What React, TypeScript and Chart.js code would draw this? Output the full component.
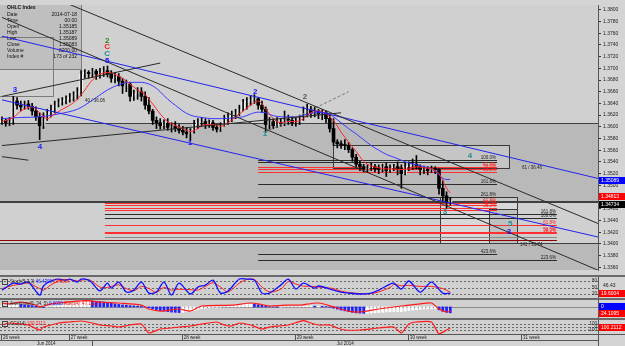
import React, { useEffect, useRef } from 'react';
import { Chart, registerables } from 'chart.js';

Chart.register(...registerables);

// ---------------- price data (H4 bars, index 0 = first visible bar) ----------------
const firstOpen = 1.3607;
const highs = [
  1.3617, 1.3614, 1.3616, 1.3652, 1.3650, 1.3644, 1.3644, 1.3645, 1.3640, 1.3634,
  1.3624, 1.3624, 1.3630, 1.3637, 1.3644, 1.3648, 1.3650, 1.3653, 1.3657, 1.3660,
  1.3667, 1.3696, 1.3698, 1.3696, 1.3700, 1.3698, 1.3700, 1.3703, 1.3704, 1.3696,
  1.3693, 1.3691, 1.3683, 1.3680, 1.3676, 1.3663, 1.3667, 1.3667, 1.3660, 1.3650,
  1.3630, 1.3617, 1.3614, 1.3612, 1.3614, 1.3607, 1.3609, 1.3604, 1.3601, 1.3599,
  1.3597, 1.3611, 1.3614, 1.3616, 1.3614, 1.3612, 1.3611, 1.3604, 1.3607, 1.3620,
  1.3624, 1.3627, 1.3630, 1.3637, 1.3647, 1.3650, 1.3653, 1.3655, 1.3650, 1.3644,
  1.3634, 1.3616, 1.3614, 1.3616, 1.3614, 1.3627, 1.3620, 1.3617, 1.3616, 1.3620,
  1.3634, 1.3639, 1.3635, 1.3634, 1.3630, 1.3629, 1.3627, 1.3620, 1.3614, 1.3578,
  1.3576, 1.3578, 1.3573, 1.3564, 1.3553, 1.3541, 1.3536, 1.3535, 1.3538, 1.3536,
  1.3535, 1.3536, 1.3538, 1.3535, 1.3536, 1.3540, 1.3535, 1.3538, 1.3540, 1.3545,
  1.3551, 1.3535, 1.3533, 1.3532, 1.3533, 1.3532, 1.3528, 1.3508, 1.3489, 1.3479,
];
const lows = [
  1.3604, 1.3601, 1.3602, 1.3604, 1.3630, 1.3627, 1.3630, 1.3630, 1.3620, 1.3611,
  1.3578, 1.3597, 1.3611, 1.3617, 1.3624, 1.3634, 1.3637, 1.3639, 1.3642, 1.3644,
  1.3647, 1.3653, 1.3683, 1.3683, 1.3685, 1.3681, 1.3683, 1.3686, 1.3685, 1.3676,
  1.3675, 1.3670, 1.3657, 1.3660, 1.3644, 1.3645, 1.3647, 1.3644, 1.3630, 1.3622,
  1.3604, 1.3597, 1.3596, 1.3597, 1.3594, 1.3591, 1.3592, 1.3589, 1.3586, 1.3581,
  1.3576, 1.3589, 1.3597, 1.3601, 1.3597, 1.3599, 1.3594, 1.3591, 1.3592, 1.3601,
  1.3604, 1.3609, 1.3614, 1.3619, 1.3627, 1.3630, 1.3637, 1.3640, 1.3630, 1.3624,
  1.3591, 1.3596, 1.3597, 1.3599, 1.3601, 1.3602, 1.3604, 1.3602, 1.3601, 1.3604,
  1.3611, 1.3617, 1.3616, 1.3617, 1.3614, 1.3612, 1.3607, 1.3591, 1.3568, 1.3564,
  1.3563, 1.3561, 1.3556, 1.3541, 1.3532, 1.3525, 1.3523, 1.3522, 1.3525, 1.3523,
  1.3520, 1.3523, 1.3515, 1.3522, 1.3525, 1.3518, 1.3495, 1.3518, 1.3525, 1.3527,
  1.3528, 1.3518, 1.3520, 1.3518, 1.3522, 1.3520, 1.3485, 1.3472, 1.3461, 1.3466,
];
const closes = [
  1.3611, 1.3607, 1.3609, 1.3644, 1.3637, 1.3634, 1.3639, 1.3635, 1.3627, 1.3617,
  1.3602, 1.3614, 1.3624, 1.3630, 1.3637, 1.3642, 1.3645, 1.3648, 1.3650, 1.3655,
  1.3660, 1.3690, 1.3693, 1.3691, 1.3695, 1.3690, 1.3693, 1.3696, 1.3690, 1.3683,
  1.3686, 1.3678, 1.3670, 1.3673, 1.3652, 1.3657, 1.3660, 1.3652, 1.3637, 1.3627,
  1.3611, 1.3607, 1.3602, 1.3606, 1.3599, 1.3601, 1.3597, 1.3594, 1.3591, 1.3588,
  1.3594, 1.3604, 1.3607, 1.3609, 1.3604, 1.3607, 1.3599, 1.3596, 1.3602, 1.3614,
  1.3617, 1.3622, 1.3624, 1.3630, 1.3642, 1.3644, 1.3647, 1.3648, 1.3637, 1.3630,
  1.3604, 1.3609, 1.3602, 1.3607, 1.3606, 1.3612, 1.3611, 1.3607, 1.3609, 1.3614,
  1.3627, 1.3630, 1.3624, 1.3627, 1.3622, 1.3624, 1.3614, 1.3597, 1.3574, 1.3571,
  1.3569, 1.3568, 1.3561, 1.3548, 1.3536, 1.3532, 1.3528, 1.3530, 1.3532, 1.3528,
  1.3527, 1.3532, 1.3525, 1.3530, 1.3532, 1.3528, 1.3520, 1.3532, 1.3533, 1.3536,
  1.3532, 1.3527, 1.3528, 1.3525, 1.3528, 1.3527, 1.3495, 1.3482, 1.3471, 1.3474,
];

// moving averages (bar index, price)
const fastMAIdx = [0, 3, 5, 8, 10, 12, 14, 16, 18, 20, 22, 24, 26, 28, 30, 32, 34, 36, 38, 40, 42, 44, 46, 48, 50, 52, 54, 56, 58, 60, 62, 64, 66, 68, 70, 72, 74, 76, 78, 80, 82, 84, 86, 88, 90, 92, 94, 96, 98, 100, 102, 104, 106, 108, 110, 112, 114, 116, 117, 118, 119];
const fastMA = [1.3609, 1.3616, 1.3627, 1.3634, 1.3624, 1.3614, 1.3622, 1.3630, 1.3637, 1.3647, 1.3663, 1.3680, 1.3690, 1.3693, 1.3690, 1.3683, 1.3673, 1.3663, 1.3655, 1.3639, 1.3622, 1.3609, 1.3602, 1.3597, 1.3592, 1.3597, 1.3604, 1.3604, 1.3601, 1.3607, 1.3617, 1.3627, 1.3637, 1.3644, 1.3630, 1.3614, 1.3607, 1.3609, 1.3609, 1.3614, 1.3624, 1.3627, 1.3622, 1.3611, 1.3591, 1.3574, 1.3558, 1.3541, 1.3533, 1.3530, 1.3528, 1.3528, 1.3527, 1.3528, 1.3532, 1.3530, 1.3528, 1.3520, 1.3508, 1.3495, 1.3487];
const slowMAIdx = [0, 5, 10, 15, 20, 22, 25, 28, 31, 34, 37, 40, 42, 44, 46, 48, 50, 53, 56, 59, 62, 64, 66, 68, 70, 72, 75, 78, 81, 84, 86, 88, 90, 92, 94, 96, 98, 100, 102, 104, 106, 108, 110, 112, 114, 116, 117, 118, 119];
const slowMA = [1.3614, 1.3616, 1.3617, 1.3622, 1.3630, 1.3637, 1.3650, 1.3663, 1.3672, 1.3676, 1.3676, 1.3670, 1.3660, 1.3647, 1.3637, 1.3627, 1.3620, 1.3616, 1.3614, 1.3614, 1.3616, 1.3617, 1.3622, 1.3625, 1.3624, 1.3619, 1.3617, 1.3617, 1.3622, 1.3624, 1.3624, 1.3617, 1.3607, 1.3597, 1.3588, 1.3578, 1.3568, 1.3560, 1.3553, 1.3548, 1.3543, 1.3538, 1.3535, 1.3532, 1.3528, 1.3518, 1.3512, 1.3510, 1.3510];

// trend lines: [startIdx, startPrice, endIdx, endPrice]
const trendLines = [
  [0, 1.3857, 160, 1.3430],
  [0, 1.3787, 160, 1.3350],
  [0, 1.3755, 160, 1.3509],
  [0, 1.3646, 160, 1.3409],
  [0, 1.3652, 42, 1.3709],
  [0, 1.3568, 90, 1.3624],
  [0, 1.3549, 7, 1.3543],
  [70, 1.3591, 92, 1.3660],
];
const trendKinds = ['black', 'black', 'blue', 'blue', 'black', 'black', 'black', 'dash'];

// shaded zones (price ranges) and full-width horizontal lines
const zoneRanges = [[1.3471, 1.3606], [1.3300, 1.3401]];
const fullLines = [1.3606, 1.3471, 1.3401];

// rectangles: [idx1, price1, idx2, price2]
const boxes = [
  [87.9, 1.3569, 134.6, 1.3530],
  [116.3, 1.3480, 136.7, 1.3401],
  [129.3, 1.3459, 136.7, 1.3401],
];

// fibonacci levels
const fibPrice = [1.3543, 1.3540, 1.3532, 1.3528, 1.3523, 1.3502, 1.3480,
  1.3469, 1.3466, 1.3462, 1.3457,
  1.3451, 1.3444, 1.3433, 1.3421, 1.3418, 1.3411, 1.3406,
  1.3383, 1.3373];
const fibFrom = [68, 68, 68, 68, 68, 68, 68,
  27.3, 27.3, 27.3, 27.3,
  27.3, 27.3, 27.3, 27.3, 27.3, 27.3, -1,
  68, 68];
const fibTo = [131.4, 131.4, 131.4, 131.4, 131.4, 131.4, 131.4,
  131.4, 131.4, 131.4, 131.4,
  147.3, 147.3, 147.3, 147.3, 147.3, 147.3, 147.3,
  131.4, 147.3];
const fibText = ['100.0%', '', '61.8%', '50.0%', '38.2%', '161.8%', '261.8%',
  '61.8%', '50.0%', '38.2%', '',
  '161.8%', '100.0%', '61.8%', '50.0%', '38.2%', '', '',
  '423.6%', '223.6%'];
const fibKind = ['k', 'k', 'r', 'r', 'r', 'k', 'k',
  'r', 'r', 'r', 'r',
  'k', 'k', 'r', 'r', 'r', 'g', 'd',
  'k', 'k'];

// wave labels
const waveText = ['3', '4', '2', 'C', 'C', '5', '1', '2', '1', '2', '4', '3', '5', '3'];
const waveIdx = [3.45, 10.1, 27.9, 27.9, 27.9, 27.9, 49.9, 67.2, 69.8, 80.4, 124.2, 117.6, 134.9, 134.6];
const wavePrice = [1.3663, 1.3566, 1.3747, 1.3736, 1.3724, 1.3713, 1.3573, 1.3660, 1.3588, 1.3652, 1.3550, 1.3454, 1.3434, 1.3420];
const waveColors = ['#1a1aff', '#1a1aff', '#1f8a1f', '#ff1a1a', '#1f8f8f', '#1a1aff', '#1a1aff', '#1a1aff', '#1f8f8f', '#555555', '#1f8f8f', '#1f8f8f', '#1f8f8f', '#1a1aff'];

const noteText = ['40 / 36.06', '61 / 36.46', '141 / 36.74'];
const noteIdx = [22, 138, 137.5];
const notePrice = [1.3644, 1.3530, 1.3398];

// price markers on the scale
const markerValue = [1.35089, 1.34813, 1.34734];
const markerColor = ['#0000ff', '#ff0000', '#000000'];

// OHLC info box
const infoLabels = ['Date', 'Time', 'Open', 'High', 'Low', 'Close', 'Volume', 'Index #'];
const infoValues = ['2014-07-18', '00:00', '1.35185', '1.35187', '1.35089', '1.35083', '8200.00', '173 of 232'];

// stochastic panel
const stochIdx = [0, 3, 5, 7, 10, 11, 13, 15, 17, 18, 20, 21, 23, 24, 26, 28, 29, 31, 33, 35, 37, 39, 41, 43, 45, 47, 50, 52, 54, 56, 58, 60, 63, 65, 67, 69, 71, 74, 76, 78, 80, 83, 84, 88, 90, 92, 95, 98, 100, 103, 104, 106, 108, 111, 114, 117, 119];
const stochMain = [38, 70, 66, 75, 15, 57, 80, 89, 84, 89, 75, 89, 84, 70, 34, 70, 47, 75, 29, 38, 75, 24, 29, 75, 15, 70, 20, 52, 61, 84, 24, 34, 89, 89, 84, 24, 24, 61, 89, 43, 70, 47, 57, 38, 29, 24, 20, 24, 38, 66, 70, 43, 80, 29, 75, 24, 24];
const stochSignal = [45, 60, 66, 70, 45, 38, 62, 80, 86, 87, 80, 84, 86, 78, 52, 50, 55, 62, 45, 35, 55, 45, 28, 50, 38, 42, 40, 38, 55, 72, 52, 30, 70, 87, 87, 52, 30, 42, 78, 66, 56, 55, 52, 45, 33, 27, 22, 22, 30, 50, 64, 58, 60, 55, 55, 45, 28];
const stochLevels = [80, 50, 20];

// histogram panel
const histValues = [
  4, 5, 6, 9, 10, 9, 8, 7, 5, 3,
  0, -2, -1, 1, 3, 5, 6, 7,
  9, 12, 18, 22, 24, 25, 24, 23, 22, 20, 18, 15,
  12, 10, 8, 7, 5, 4, 3, 2, 0, -3,
  -8, -12, -15, -17, -19, -21, -22, -23, -22, -20, -18,
  -14, -10, -7, -5, -3, -2, -2, -1,
  1, 3, 5, 7, 9, 11, 12, 12, 11,
  9, 6, 3, 1, 0, -1, -1, 0, 0, 1, 1, 2,
  3, 4, 4, 3, 3, 2, 1, -1,
  -5, -9, -13, -16, -19, -22, -24, -25, -26, -26, -25, -24, -23, -22, -21, -20, -19, -19, -19,
  -17, -15, -13, -12, -10, -9, -8, -8, -8,
  -12, -18, -22, -24,
];
const rsiIdx = [0, 2, 5, 9, 10, 13, 15, 21, 23, 26, 31, 37, 39, 42, 47, 50, 53, 61, 66, 68, 71, 75, 79, 84, 88, 92, 95, 100, 106, 108, 111, 114, 116, 118, 119];
const rsiValues = [70, 67, 73, 63, 57, 67, 70, 77, 78, 73, 70, 63, 50, 43, 50, 43, 60, 63, 70, 67, 60, 63, 63, 70, 57, 43, 40, 50, 60, 63, 67, 70, 50, 40, 43];

// CCI panel
const cciIdx = [0, 2, 5, 7, 10, 11, 13, 15, 18, 21, 24, 26, 29, 31, 34, 37, 39, 42, 45, 47, 50, 53, 57, 59, 61, 63, 66, 69, 71, 76, 80, 82, 84, 87, 89, 91, 95, 100, 104, 106, 108, 110, 114, 116, 118, 119];
const cciValues = [71, 143, 107, 71, -107, 0, 71, 143, 179, 214, 143, 71, 36, 0, 71, 107, -214, -71, -36, 0, 36, 107, 179, 71, 36, 143, 71, -71, 0, 71, 230, 143, 71, 71, -36, -107, -107, -36, 0, -214, 107, 179, 179, -250, -107, -36];
const cciLevels = [100, 0, -100];

// time axis
const weekIdx = [0, 18, 48, 78, 108, 138];
const weekText = ['26 week', '27 week', '28 week', '29 week', '30 week', '31 week'];
const monthStartIdx = [-0.53, 24];
const monthText = ['Jun 2014', 'Jul 2014'];

// ---------------- layout / style ----------------
const AXIS_W = 27;
const X_MIN = -0.53;
const X_MAX = 158.2;
const Y_MIN = 1.33553;
const Y_MAX = 1.38082;
const FONT = 'Liberation Sans, Arial, sans-serif';
const C = {
  page: '#d4d4d4',
  plot: '#d0d0d0',
  zone: '#b9b9b9',
  sep: '#6a6a6a',
  black: '#1e1e1e',
  blue: '#1010ff',
  red: '#ff1010',
};
const trendStyle: Record<string, any> = {
  black: { color: '#2a2a2a', dash: [] },
  blue: { color: '#2323ee', dash: [] },
  dash: { color: '#777777', dash: [3, 2] },
};
const fibColor: Record<string, string> = { k: '#2b2b2b', r: '#ff3030', g: '#8a8a8a', d: '#8b0000' };

const xScale = { type: 'linear', min: X_MIN, max: X_MAX, display: false, offset: false };

const px = (v: number) => Math.round(v) + 0.5;

function drawBox(ctx: CanvasRenderingContext2D, x: number, y: number, w: number, h: number, bg: string, text: string, fg = '#fff') {
  ctx.fillStyle = bg;
  ctx.fillRect(x, y, w, h);
  ctx.fillStyle = fg;
  ctx.font = `5px ${FONT}`;
  ctx.textAlign = 'left';
  ctx.textBaseline = 'middle';
  ctx.fillText(text, x + 2, y + h / 2 + 0.5);
}

const mainPlugin = {
  id: 'mainDecor',
  beforeDatasetsDraw(chart: any) {
    const { ctx, chartArea: a, scales } = chart;
    const x = scales.x, y = scales.y;
    ctx.save();
    ctx.beginPath();
    ctx.rect(a.left, a.top, a.right - a.left, a.bottom - a.top);
    ctx.clip();
    ctx.fillStyle = C.plot;
    ctx.fillRect(a.left, a.top, a.right - a.left, a.bottom - a.top);
    zoneRanges.forEach(([lo, hi]) => {
      const y1 = y.getPixelForValue(hi), y2 = y.getPixelForValue(lo);
      ctx.fillStyle = C.zone;
      ctx.fillRect(a.left, y1, a.right - a.left, y2 - y1);
    });
    // info panel
    ctx.fillStyle = '#bfbfbf';
    ctx.fillRect(0, 0, 82, 70);
    ctx.strokeStyle = '#7c7c7c';
    ctx.lineWidth = 1;
    ctx.strokeRect(-0.5, -0.5, 82, 70);
    ctx.strokeRect(-0.5, 37.5, 54, 59);
    ctx.fillStyle = '#111';
    ctx.font = `bold 5px ${FONT}`;
    ctx.textBaseline = 'middle';
    ctx.textAlign = 'left';
    ctx.fillText('OHLC Index', 7, 8);
    ctx.font = `5px ${FONT}`;
    infoLabels.forEach((l, k) => {
      const yy = 15 + k * 6;
      ctx.textAlign = 'left';
      ctx.fillText(l, 7, yy);
      ctx.textAlign = 'right';
      ctx.fillText(infoValues[k], 77, yy);
    });
    // boxes
    boxes.forEach(([i1, p1, i2, p2], k) => {
      const x1 = x.getPixelForValue(i1), x2 = x.getPixelForValue(i2);
      const y1 = y.getPixelForValue(p1), y2 = y.getPixelForValue(p2);
      ctx.fillStyle = k === 2 ? 'rgba(120,120,120,0.25)' : 'rgba(255,255,255,0.18)';
      ctx.fillRect(x1, y1, x2 - x1, y2 - y1);
      ctx.strokeStyle = '#3a3a3a';
      ctx.strokeRect(px(x1), px(y1), Math.round(x2 - x1), Math.round(y2 - y1));
    });
    // full width lines
    fullLines.forEach((p, k) => {
      const yy = y.getPixelForValue(p);
      ctx.strokeStyle = '#404040';
      ctx.lineWidth = k === 1 ? 2 : 1;
      ctx.beginPath();
      ctx.moveTo(a.left, k === 1 ? Math.round(yy) : px(yy));
      ctx.lineTo(a.right, k === 1 ? Math.round(yy) : px(yy));
      ctx.stroke();
    });
    ctx.lineWidth = 1;
    // fib levels
    fibPrice.forEach((p, k) => {
      const yy = px(y.getPixelForValue(p));
      const x1 = x.getPixelForValue(fibFrom[k]), x2 = x.getPixelForValue(fibTo[k]);
      ctx.strokeStyle = fibColor[fibKind[k]];
      ctx.beginPath();
      ctx.moveTo(x1, yy);
      ctx.lineTo(x2, yy);
      ctx.stroke();
      if (fibText[k]) {
        ctx.fillStyle = fibKind[k] === 'r' ? '#ff2020' : '#222';
        ctx.font = `4.5px ${FONT}`;
        ctx.textAlign = 'right';
        ctx.textBaseline = 'bottom';
        ctx.fillText(fibText[k], x2 - 1, yy - 0.5);
      }
    });
    ctx.restore();
  },
  afterDatasetsDraw(chart: any) {
    const { ctx, chartArea: a, scales } = chart;
    const x = scales.x, y = scales.y;
    ctx.save();
    ctx.beginPath();
    ctx.rect(a.left, a.top, a.right - a.left, a.bottom - a.top);
    ctx.clip();
    waveText.forEach((t, k) => {
      const big = k >= 2 && k <= 5;
      ctx.font = `bold ${big ? 8 : 8}px ${FONT}`;
      ctx.fillStyle = waveColors[k];
      ctx.textAlign = 'center';
      ctx.textBaseline = 'middle';
      ctx.fillText(t, x.getPixelForValue(waveIdx[k]), y.getPixelForValue(wavePrice[k]));
    });
    ctx.font = `4.5px ${FONT}`;
    ctx.fillStyle = '#222';
    ctx.textAlign = 'left';
    noteText.forEach((t, k) => {
      ctx.fillText(t, x.getPixelForValue(noteIdx[k]), y.getPixelForValue(notePrice[k]));
    });
    ctx.restore();
  },
  afterDraw(chart: any) {
    const { ctx, chartArea: a, scales } = chart;
    const y = scales.y;
    ctx.save();
    let last = -100;
    markerValue.forEach((v, k) => {
      let yy = Math.round(y.getPixelForValue(v)) - 3;
      if (yy < last + 8) yy = last + 8;
      last = yy;
      drawBox(ctx, a.right + 1, yy, AXIS_W - 1, 7, markerColor[k], v.toFixed(5));
    });
    ctx.restore();
  },
};

function panelBase(chart: any) {
  const { ctx, chartArea: a } = chart;
  ctx.fillStyle = C.plot;
  ctx.fillRect(a.left, a.top, a.right - a.left, a.bottom - a.top);
  ctx.strokeStyle = '#555';
  ctx.beginPath();
  ctx.moveTo(px(a.right), 0);
  ctx.lineTo(px(a.right), chart.height);
  ctx.stroke();
}

function drawLevels(chart: any, levels: number[]) {
  const { ctx, chartArea: a, scales } = chart;
  ctx.save();
  ctx.strokeStyle = '#6a6a6a';
  ctx.setLineDash([2, 2]);
  levels.forEach((l) => {
    const yy = px(scales.y.getPixelForValue(l));
    ctx.beginPath();
    ctx.moveTo(a.left, yy);
    ctx.lineTo(a.right, yy);
    ctx.stroke();
  });
  ctx.setLineDash([]);
  ctx.font = `4.5px ${FONT}`;
  ctx.fillStyle = '#222';
  ctx.textAlign = 'right';
  ctx.textBaseline = 'middle';
  levels.forEach((l) => {
    ctx.fillText(String(l), a.right - 1, scales.y.getPixelForValue(l));
  });
  ctx.restore();
}

function drawTitle(ctx: CanvasRenderingContext2D, parts: [string, string][], y: number) {
  ctx.save();
  ctx.strokeStyle = '#444';
  ctx.strokeRect(2.5, y - 2.5, 5, 5);
  ctx.font = `4.5px ${FONT}`;
  ctx.textAlign = 'left';
  ctx.textBaseline = 'middle';
  let xx = 10;
  parts.forEach(([t, c]) => {
    ctx.fillStyle = c;
    ctx.fillText(t, xx, y);
    xx += ctx.measureText(t).width;
  });
  ctx.restore();
}

const stochPlugin = {
  id: 'stochDecor',
  beforeDatasetsDraw(chart: any) {
    panelBase(chart);
    drawLevels(chart, stochLevels);
  },
  afterDraw(chart: any) {
    const { ctx, chartArea: a } = chart;
    drawTitle(ctx, [['Stoch(5,3,3) ', '#222'], ['46.4309 ', '#1010ff'], ['19.6004', '#ff1010']], 5);
    ctx.save();
    ctx.font = `5px ${FONT}`;
    ctx.fillStyle = '#222';
    ctx.textBaseline = 'middle';
    ctx.fillText('46.43', a.right + 5, 9);
    drawBox(ctx, a.right + 1, 13, AXIS_W - 1, 7, '#ff0000', '19.6004');
    ctx.restore();
  },
};

const histPlugin = {
  id: 'histDecor',
  beforeDatasetsDraw(chart: any) {
    panelBase(chart);
    const { ctx, chartArea: a, scales } = chart;
    const yy = px(scales.yh.getPixelForValue(0));
    ctx.strokeStyle = '#8a8a8a';
    ctx.beginPath();
    ctx.moveTo(a.left, yy);
    ctx.lineTo(a.right, yy);
    ctx.stroke();
  },
  afterDraw(chart: any) {
    const { ctx, chartArea: a } = chart;
    drawTitle(ctx, [['Awesome(5, 34, 5) ', '#222'], ['0.0000 ', '#1010ff'], ['RSI(14): 47.1623', '#ff1010']], 4);
    drawBox(ctx, a.right + 1, 3, AXIS_W - 1, 7, '#0000ff', '0');
    drawBox(ctx, a.right + 1, 10, AXIS_W - 1, 7, '#ff0000', '24.1095');
  },
};

const cciPlugin = {
  id: 'cciDecor',
  beforeDatasetsDraw(chart: any) {
    panelBase(chart);
    drawLevels(chart, cciLevels);
  },
  afterDraw(chart: any) {
    const { ctx, chartArea: a, scales } = chart;
    drawTitle(ctx, [['CCI(14) ', '#222'], ['100.2112', '#ff1010']], 4);
    drawBox(ctx, a.right + 1, 4, AXIS_W - 1, 7, '#ff0000', '100.2112');
    // time axis
    ctx.save();
    const top = a.bottom;
    ctx.fillStyle = C.page;
    ctx.fillRect(0, top, chart.width, chart.height - top);
    ctx.strokeStyle = '#555';
    ctx.beginPath();
    ctx.moveTo(0, top + 0.5);
    ctx.lineTo(chart.width, top + 0.5);
    ctx.moveTo(0, top + 6.5);
    ctx.lineTo(a.right, top + 6.5);
    ctx.moveTo(px(a.right), top);
    ctx.lineTo(px(a.right), chart.height);
    ctx.stroke();
    ctx.font = `4.5px ${FONT}`;
    ctx.fillStyle = '#222';
    ctx.textBaseline = 'middle';
    ctx.textAlign = 'left';
    weekIdx.forEach((wi, k) => {
      const xx = Math.max(a.left + 1, scales.x.getPixelForValue(wi));
      ctx.strokeStyle = '#555';
      ctx.beginPath();
      ctx.moveTo(px(xx - 1), top);
      ctx.lineTo(px(xx - 1), top + 6);
      ctx.stroke();
      ctx.fillText(weekText[k], xx + 1, top + 3.5);
    });
    ctx.textAlign = 'center';
    monthStartIdx.forEach((mi, k) => {
      const x1 = Math.max(a.left, scales.x.getPixelForValue(mi));
      const x2 = k + 1 < monthStartIdx.length ? scales.x.getPixelForValue(monthStartIdx[k + 1]) : a.right;
      if (k > 0) {
        ctx.beginPath();
        ctx.moveTo(px(x1), top + 6);
        ctx.lineTo(px(x1), chart.height);
        ctx.stroke();
      }
      ctx.fillText(monthText[k], (x1 + x2) / 2, top + 9.5);
    });
    ctx.restore();
  },
};

const baseOptions = {
  animation: false,
  responsive: false,
  maintainAspectRatio: false,
  events: [],
  plugins: { legend: { display: false }, tooltip: { enabled: false } },
};

function mainConfig(): any {
  const opens = closes.map((c, i) => (i === 0 ? firstOpen : closes[i - 1]));
  const trendSets = trendLines.map((t, k) => ({
    type: 'line',
    data: [{ x: t[0], y: t[1] }, { x: t[2], y: t[3] }],
    borderColor: trendStyle[trendKinds[k]].color,
    borderDash: trendStyle[trendKinds[k]].dash,
    borderWidth: 1,
    pointRadius: 0,
    order: 0,
  }));
  return {
    type: 'bar',
    data: {
      datasets: [
        ...trendSets,
        {
          type: 'line',
          data: fastMAIdx.map((i, k) => ({ x: i, y: fastMA[k] })),
          borderColor: '#ff2a2a',
          borderWidth: 1,
          pointRadius: 0,
          cubicInterpolationMode: 'monotone',
          order: 1,
        },
        {
          type: 'line',
          data: slowMAIdx.map((i, k) => ({ x: i, y: slowMA[k] })),
          borderColor: '#3a3aff',
          borderWidth: 1,
          pointRadius: 0,
          cubicInterpolationMode: 'monotone',
          order: 1,
        },
        {
          type: 'bar',
          data: closes.map((c, i) => ({ x: i, y: [lows[i], highs[i]] })),
          backgroundColor: '#000',
          barThickness: 1,
          grouped: false,
          minBarLength: 1,
          order: 2,
        },
        {
          type: 'bar',
          data: closes.map((c, i) => ({ x: i, y: [Math.min(opens[i], c), Math.max(opens[i], c)] })),
          backgroundColor: closes.map((c, i) => (c >= opens[i] ? '#f4f4f4' : '#000')),
          barThickness: 3,
          grouped: false,
          minBarLength: 1,
          order: 3,
        },
      ],
    },
    options: {
      ...baseOptions,
      layout: { padding: 0 },
      scales: {
        x: xScale,
        y: {
          position: 'right',
          min: Y_MIN,
          max: Y_MAX,
          afterFit(s: any) { s.width = AXIS_W; },
          grid: { drawOnChartArea: false, tickLength: 3, color: '#333' },
          border: { color: '#555' },
          ticks: {
            stepSize: 0.002,
            includeBounds: false,
            autoSkip: false,
            padding: 2,
            color: '#222',
            font: { size: 5, family: FONT },
            callback: (v: any) => Number(v).toFixed(4),
          },
        },
      },
    },
    plugins: [mainPlugin],
  };
}

function stochConfig(): any {
  return {
    type: 'line',
    data: {
      datasets: [
        { data: stochIdx.map((i, k) => ({ x: i, y: stochMain[k] })), borderColor: '#1010ff', borderWidth: 1.3, pointRadius: 0, tension: 0.3 },
        { data: stochIdx.map((i, k) => ({ x: i, y: stochSignal[k] })), borderColor: '#ff2020', borderWidth: 1, pointRadius: 0, tension: 0.3 },
      ],
    },
    options: {
      ...baseOptions,
      layout: { padding: { right: AXIS_W } },
      scales: { x: xScale, y: { display: false, min: 1.5, max: 98.5 } },
    },
    plugins: [stochPlugin],
  };
}

function histConfig(): any {
  return {
    type: 'bar',
    data: {
      datasets: [
        {
          type: 'line',
          yAxisID: 'yr',
          data: rsiIdx.map((i, k) => ({ x: i, y: rsiValues[k] })),
          borderColor: '#ff1a1a',
          borderWidth: 1.2,
          pointRadius: 0,
          tension: 0.3,
          order: 0,
        },
        {
          type: 'bar',
          yAxisID: 'yh',
          data: histValues.map((v, i) => ({ x: i, y: v })),
          backgroundColor: histValues.map((v, i) => (i > 0 && v < histValues[i - 1] ? '#2020ff' : '#ffffff')),
          barThickness: 2,
          grouped: false,
          order: 1,
        },
      ],
    },
    options: {
      ...baseOptions,
      layout: { padding: { right: AXIS_W } },
      scales: {
        x: xScale,
        yh: { display: false, min: -45, max: 28 },
        yr: { display: false, min: 20, max: 80 },
      },
    },
    plugins: [histPlugin],
  };
}

function cciConfig(): any {
  return {
    type: 'line',
    data: {
      datasets: [
        { data: cciIdx.map((i, k) => ({ x: i, y: cciValues[k] })), borderColor: '#ff1a1a', borderWidth: 1.2, pointRadius: 0, tension: 0.2 },
      ],
    },
    options: {
      ...baseOptions,
      layout: { padding: { right: AXIS_W, bottom: 12 } },
      scales: { x: xScale, y: { display: false, min: -250, max: 250 } },
    },
    plugins: [cciPlugin],
  };
}

export default function App() {
  const mainRef = useRef<HTMLCanvasElement>(null);
  const stochRef = useRef<HTMLCanvasElement>(null);
  const histRef = useRef<HTMLCanvasElement>(null);
  const cciRef = useRef<HTMLCanvasElement>(null);

  useEffect(() => {
    const charts = [
      new Chart(mainRef.current as HTMLCanvasElement, mainConfig()),
      new Chart(stochRef.current as HTMLCanvasElement, stochConfig()),
      new Chart(histRef.current as HTMLCanvasElement, histConfig()),
      new Chart(cciRef.current as HTMLCanvasElement, cciConfig()),
    ];
    return () => charts.forEach((c) => c.destroy());
  }, []);

  const cv = (top: number, h: number): React.CSSProperties => ({ position: 'absolute', left: 0, top, width: 625, height: h, display: 'block' });
  const sep = (top: number): React.CSSProperties => ({ position: 'absolute', left: 0, top, width: 625, height: 2, background: C.sep });

  return (
    <div style={{ position: 'fixed', left: 0, top: 0, width: 625, height: 346, background: C.page, overflow: 'hidden' }}>
      <canvas ref={mainRef} width={625} height={275} style={cv(0, 275)} />
      <div style={sep(275)} />
      <canvas ref={stochRef} width={625} height={21} style={cv(277, 21)} />
      <div style={sep(298)} />
      <canvas ref={histRef} width={625} height={18} style={cv(300, 18)} />
      <div style={sep(318)} />
      <canvas ref={cciRef} width={625} height={26} style={cv(320, 26)} />
    </div>
  );
}
